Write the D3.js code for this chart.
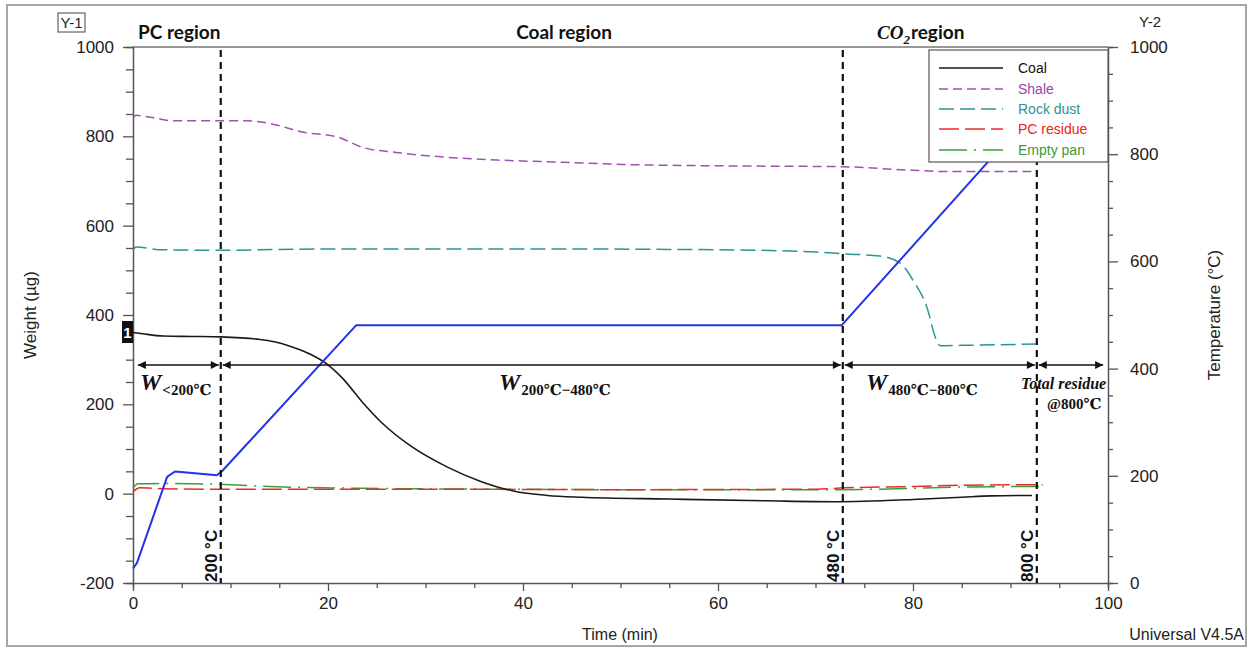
<!DOCTYPE html>
<html><head><meta charset="utf-8">
<script src="https://cdn.jsdelivr.net/npm/d3@7"></script>
<style>body{margin:0;background:#fff}svg{display:block}</style>
</head><body>
<svg id="c" width="1252" height="648"></svg>
<script>
// ---- data ----
const coalTime = [0, 1, 3.1, 6, 9, 12.7, 14.5, 16.1, 18.2, 19.9, 21.5, 23.6, 25.6, 28.4, 32.2, 35.6, 39, 42.5, 46, 55, 65, 72, 75, 80, 85, 88, 92.2];
const coalW    = [361, 358, 353, 352, 351, 346, 340, 330, 312, 290, 258, 203, 157, 108, 60, 28, 6, -4, -8, -12, -16, -18, -17, -13, -8, -5, -4];
const shaleTime = [0, 0.3, 2, 4.1, 11.7, 14, 17.5, 20.9, 23.6, 27, 32.2, 37.3, 44.1, 50.3, 60, 72.8, 76.6, 80, 83.5, 92.7];
const shaleW    = [840, 847, 842, 835, 835, 829, 809, 799, 775, 764, 753, 747, 742, 737, 734, 732, 728, 724, 721, 721];
const rockTime = [0, 0.3, 3, 9, 20, 40, 60, 70, 72.8, 76.6, 78.7, 80, 81.4, 82.4, 82.8, 85, 92.7];
const rockW    = [545, 552, 546, 545, 548, 548, 546, 541, 537, 532, 516, 478, 419, 344, 331, 332, 335];
const pcTime = [0, 0.7, 3, 10, 30, 50, 70, 73, 80, 85, 93.3];
const pcW    = [4, 13, 11, 10, 10, 9, 10, 13, 16, 19, 20];
const panTime = [0, 0.5, 3, 10, 14, 23.6, 37, 50, 72.8, 80, 85, 93.3];
const panW    = [12, 22, 23, 20, 16, 12, 10, 9, 9, 12, 15, 16];
const tempTime = [0, 0.4, 3.5, 4.3, 5.5, 8.6, 9.1, 22.9, 72.7, 88.4, 92.7];
const tempC    = [27, 37, 198, 208, 206, 201, 208, 481, 481, 800, 800];
const xTicks = [0, 20, 40, 60, 80, 100];
const yLeftTicks = [-200, 0, 200, 400, 600, 800, 1000];
const yRightTicks = [0, 200, 400, 600, 800, 1000];
const boundaries = [9, 72.8, 92.7];
const boundaryLabels = ["200 °C", "480 °C", "800 °C"];
const regionNames = ["PC region", "Coal region", "region"];
const seriesNames = ["Coal", "Shale", "Rock dust", "PC residue", "Empty pan"];

// ---- setup ----
const svg = d3.select("#c");
const L = 133, R = 1108, T = 47, B = 583;
const x = d3.scaleLinear().domain([0, 100]).range([L, R]);
const yW = d3.scaleLinear().domain([-200, 1000]).range([B, T]);
const yT = d3.scaleLinear().domain([0, 1000]).range([B, T]);
const axisCol = "#555";
const sans = "'Liberation Sans', Arial, sans-serif";
const serif = "'Liberation Serif', 'DejaVu Serif', serif";
const head = "Lato, 'Open Sans', sans-serif";
const fmt = d => String(d);

// outer frame
svg.append("rect").attr("x", 7).attr("y", 5).attr("width", 1239).attr("height", 641)
  .attr("fill", "none").attr("stroke", "#a6a6a6").attr("stroke-width", 2);

// top frame line
svg.append("line").attr("x1", L).attr("x2", R).attr("y1", T).attr("y2", T)
  .attr("stroke", "#777").attr("stroke-width", 1.5);

// axes
const gx = svg.append("g").attr("transform", `translate(0,${B})`)
  .call(d3.axisBottom(x).tickValues(d3.range(0, 101, 5)).tickSize(5).tickFormat(""));
gx.selectAll(".tick line").filter(d => d % 20 === 0).attr("y2", 8);
svg.append("g").attr("transform", `translate(0,${B})`)
  .call(d3.axisBottom(x).tickValues(xTicks).tickSize(0).tickPadding(14).tickFormat(fmt))
  .call(g => g.select(".domain").remove());

const gl = svg.append("g").attr("transform", `translate(${L},0)`)
  .call(d3.axisLeft(yW).tickValues(d3.range(-200, 1001, 50)).tickSize(7).tickFormat(""));
gl.selectAll(".tick line").filter(d => d % 200 === 0).attr("x2", -10);
svg.append("g").attr("transform", `translate(${L},0)`)
  .call(d3.axisLeft(yW).tickValues(yLeftTicks).tickSize(0).tickPadding(19).tickFormat(fmt))
  .call(g => g.select(".domain").remove());

const gr = svg.append("g").attr("transform", `translate(${R},0)`)
  .call(d3.axisRight(yT).tickValues(d3.range(0, 1001, 50)).tickSize(5).tickFormat(""));
gr.selectAll(".tick line").filter(d => d % 200 === 0).attr("x2", 10);
svg.append("g").attr("transform", `translate(${R},0)`)
  .call(d3.axisRight(yT).tickValues(yRightTicks).tickSize(0).tickPadding(22).tickFormat(fmt))
  .call(g => g.select(".domain").remove());

svg.selectAll(".domain").attr("stroke", axisCol).attr("stroke-width", 1.5);
svg.selectAll(".tick line").attr("stroke", axisCol).attr("stroke-width", 1.3);
svg.selectAll(".tick text").attr("font-family", sans).attr("font-size", 17).attr("fill", "#222");

// axis titles
svg.append("text").attr("x", 620).attr("y", 640).attr("text-anchor", "middle")
  .attr("font-family", sans).attr("font-size", 16).attr("fill", "#222").text("Time (min)");
svg.append("text").attr("transform", "translate(36,315) rotate(-90)").attr("text-anchor", "middle")
  .attr("font-family", sans).attr("font-size", 17).attr("fill", "#222").text("Weight (µg)");
svg.append("text").attr("transform", "translate(1220,315) rotate(-90)").attr("text-anchor", "middle")
  .attr("font-family", sans).attr("font-size", 17).attr("fill", "#222").text("Temperature (°C)");
svg.append("text").attr("x", 1244).attr("y", 640).attr("text-anchor", "end")
  .attr("font-family", sans).attr("font-size", 16).attr("fill", "#222").text("Universal V4.5A");
svg.append("rect").attr("x", 58).attr("y", 13).attr("width", 27).attr("height", 19)
  .attr("fill", "none").attr("stroke", "#444").attr("stroke-width", 1);
svg.append("text").attr("x", 71.5).attr("y", 28).attr("text-anchor", "middle")
  .attr("font-family", sans).attr("font-size", 15).attr("fill", "#222").text("Y-1");
svg.append("text").attr("x", 1150).attr("y", 27).attr("text-anchor", "middle")
  .attr("font-family", sans).attr("font-size", 15).attr("fill", "#222").text("Y-2");

// region titles
svg.append("text").attr("x", 138).attr("y", 39).attr("font-family", head).attr("font-weight", 700)
  .attr("font-size", 19).attr("fill", "#111").text(regionNames[0]);
svg.append("text").attr("x", 564).attr("y", 39).attr("text-anchor", "middle").attr("font-family", head)
  .attr("font-weight", 700).attr("font-size", 19).attr("fill", "#111").text(regionNames[1]);
const co2 = svg.append("text").attr("x", 877).attr("y", 39).attr("fill", "#111");
co2.append("tspan").attr("font-family", serif).attr("font-style", "italic").attr("font-weight", 700)
  .attr("font-size", 19).text("CO");
co2.append("tspan").attr("font-family", serif).attr("font-style", "italic").attr("font-weight", 700)
  .attr("font-size", 13).attr("dy", 5).text("2");
co2.append("tspan").attr("font-family", head).attr("font-weight", 700).attr("font-size", 19)
  .attr("dy", -5).attr("dx", 1).text(regionNames[2]);

// curves
const lineW = d3.line().x(d => x(d[0])).y(d => yW(d[1])).curve(d3.curveMonotoneX);
const lineT = d3.line().x(d => x(d[0])).y(d => yT(d[1])).curve(d3.curveLinear);
const zip = (a, b) => a.map((v, i) => [v, b[i]]);
const styles = [
  {name: seriesNames[0], t: coalTime, w: coalW, col: "#1a1a1a", dash: null, sw: 1.6, text: "#111"},
  {name: seriesNames[1], t: shaleTime, w: shaleW, col: "#a24fb4", dash: "9,5", sw: 1.5, text: "#9b3fae"},
  {name: seriesNames[2], t: rockTime, w: rockW, col: "#2a9494", dash: "15,6", sw: 1.5, text: "#2a9494"},
  {name: seriesNames[3], t: pcTime, w: pcW, col: "#ee2a2a", dash: "20,6", sw: 1.5, text: "#ee2020"},
  {name: seriesNames[4], t: panTime, w: panW, col: "#3a9e3a", dash: "28,7,2,7", sw: 1.5, text: "#3a9a3a"}
];
[4, 3, 2, 1, 0].forEach(i => {
  const s = styles[i];
  svg.append("path").attr("d", lineW(zip(s.t, s.w))).attr("fill", "none")
    .attr("stroke", s.col).attr("stroke-width", s.sw).attr("stroke-dasharray", s.dash);
});
svg.append("path").attr("d", lineT(zip(tempTime, tempC))).attr("fill", "none")
  .attr("stroke", "#2233e8").attr("stroke-width", 2).attr("stroke-linejoin", "round");

// vertical boundaries
boundaries.forEach((b, i) => {
  svg.append("line").attr("x1", x(b)).attr("x2", x(b)).attr("y1", 50).attr("y2", B)
    .attr("stroke", "#111").attr("stroke-width", 2.2).attr("stroke-dasharray", "7,5");
  svg.append("text").attr("transform", `translate(${x(b) - 4},${B - 1}) rotate(-90)`)
    .attr("font-family", sans).attr("font-weight", 700).attr("font-size", 17).attr("fill", "#111")
    .text(boundaryLabels[i]);
});

// marker "1"
svg.append("rect").attr("x", 122).attr("y", 321).attr("width", 11).attr("height", 22).attr("fill", "#111");
svg.append("text").attr("x", 127.5).attr("y", 338).attr("text-anchor", "middle").attr("font-family", sans)
  .attr("font-weight", 700).attr("font-size", 15).attr("fill", "#fff").text("1");

// arrows
const defs = svg.append("defs");
defs.append("marker").attr("id", "ah").attr("viewBox", "0 0 10 10").attr("refX", 10).attr("refY", 5)
  .attr("markerWidth", 10).attr("markerHeight", 8).attr("markerUnits", "userSpaceOnUse")
  .attr("orient", "auto-start-reverse")
  .append("path").attr("d", "M0,0 L10,5 L0,10 z").attr("fill", "#111");
const arrowY = 365;
const spans = [[0.5, 8.8], [9.2, 72.6], [73.0, 92.5], [92.9, 99.5]];
spans.forEach(s => {
  svg.append("line").attr("x1", x(s[0])).attr("x2", x(s[1])).attr("y1", arrowY).attr("y2", arrowY)
    .attr("stroke", "#111").attr("stroke-width", 1.5)
    .attr("marker-start", "url(#ah)").attr("marker-end", "url(#ah)");
});
function wLabel(xp, sub) {
  const t = svg.append("text").attr("x", xp).attr("y", 390).attr("fill", "#111").attr("font-family", serif);
  t.append("tspan").attr("font-style", "italic").attr("font-weight", 700).attr("font-size", 24).text("W");
  t.append("tspan").attr("font-weight", 700).attr("font-size", 15).attr("dy", 5).attr("dx", 1).text(sub);
}
wLabel(140, "<200℃");
wLabel(499, "200℃−480℃");
wLabel(866, "480℃−800℃");
svg.append("text").attr("x", 1021).attr("y", 389).attr("font-family", serif).attr("font-style", "italic")
  .attr("font-weight", 700).attr("font-size", 16).attr("fill", "#111").text("Total residue");
svg.append("text").attr("x", 1047).attr("y", 409).attr("font-family", serif)
  .attr("font-weight", 700).attr("font-size", 15).attr("fill", "#111").text("@800℃");

// legend
const lg = svg.append("g");
lg.append("rect").attr("x", 929).attr("y", 50).attr("width", 179).attr("height", 112)
  .attr("fill", "#fff").attr("stroke", "#555").attr("stroke-width", 1.2);
const legY = [68, 89, 109, 129, 150];
styles.forEach((s, i) => {
  lg.append("line").attr("x1", 939).attr("x2", 1003).attr("y1", legY[i]).attr("y2", legY[i])
    .attr("stroke", s.col).attr("stroke-width", 1.6).attr("stroke-dasharray", s.dash);
  lg.append("text").attr("x", 1018).attr("y", legY[i] + 5).attr("font-family", sans).attr("font-size", 14)
    .attr("fill", s.text).text(s.name);
});
</script>
</body></html>
